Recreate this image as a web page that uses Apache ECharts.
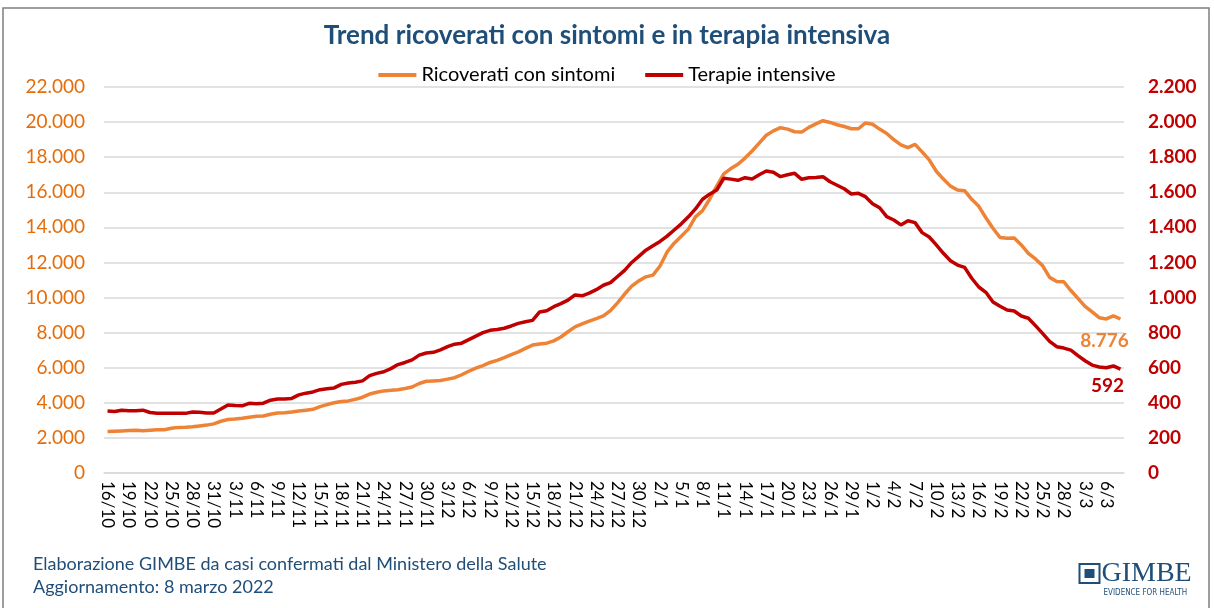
<!DOCTYPE html>
<html>
<head>
<meta charset="utf-8">
<script src="https://cdn.jsdelivr.net/npm/echarts@6/dist/echarts.min.js"></script>
<style>
  html, body { margin: 0; padding: 0; background: #fff; }
  #main { width: 1214px; height: 608px; }
</style>
</head>
<body>
<div id="main"></div>
<script>
// giorni dal 16/10/2021 all'8/3/2022
var start = new Date(2021, 9, 16);
var dates = [];
for (var d = 0; d < 144; d++) {
  var dt = new Date(start.getFullYear(), start.getMonth(), start.getDate() + d);
  dates.push(dt.getDate() + '/' + (dt.getMonth() + 1));
}

// ricoverati con sintomi (asse sx)
var ricoverati = [
  2360, 2380, 2400, 2420, 2430, 2410, 2440, 2460, 2470, 2550,
  2600, 2610, 2630, 2680, 2730, 2800, 2950, 3050, 3080, 3120,
  3180, 3230, 3250, 3350, 3420, 3440, 3480, 3530, 3580, 3630,
  3780, 3900, 4000, 4080, 4110, 4200, 4320, 4500, 4600, 4680,
  4710, 4750, 4820, 4900, 5100, 5230, 5250, 5270, 5350, 5430,
  5600, 5800, 5980, 6120, 6300, 6420, 6580, 6750, 6900, 7100,
  7290, 7350, 7400, 7530, 7750, 8050, 8330, 8500, 8660, 8800,
  8950, 9250, 9700, 10200, 10650, 10950, 11180, 11280, 11800, 12600,
  13100, 13500, 13900, 14600, 14950, 15600, 16350, 17050, 17350, 17600,
  17950, 18350, 18800, 19250, 19500, 19680, 19600, 19450, 19430, 19700,
  19900, 20080, 19980, 19850, 19750, 19620, 19620, 19950, 19880, 19600,
  19350, 19000, 18700, 18550, 18730, 18300, 17850, 17200, 16750, 16350,
  16130, 16090, 15600, 15200, 14550, 13950, 13420, 13380, 13400, 13000,
  12520, 12200, 11820, 11150, 10920, 10900, 10400, 9950, 9500, 9180,
  8850, 8780, 8960, 8776
];

// terapie intensive (asse dx)
var terapie = [
  353, 350, 358, 355, 355, 358, 345, 340, 340, 340,
  340, 340, 348, 346, 342, 342, 365, 388, 385, 383,
  397, 395, 398, 415, 422, 422, 425, 445, 455, 462,
  475, 480, 485, 505, 513, 517, 525, 555, 568, 577,
  595, 618, 630, 645, 672, 684, 688, 702, 720, 734,
  740, 760, 780, 800, 813, 818, 825, 838, 853, 862,
  870, 918, 925, 948, 965, 985, 1015, 1010, 1025, 1045,
  1070, 1085, 1120, 1155, 1200, 1235, 1270, 1295, 1320, 1350,
  1385, 1420, 1460, 1505, 1560, 1589, 1613, 1680, 1675, 1668,
  1683, 1676, 1700, 1721, 1714, 1689, 1700, 1708, 1674, 1683,
  1684, 1689, 1660, 1640, 1620, 1590, 1594, 1575, 1535, 1512,
  1461, 1442, 1414, 1438, 1427, 1370, 1345, 1300, 1252, 1210,
  1185, 1172, 1110, 1060, 1030, 975, 950, 929, 923, 895,
  882, 840, 796, 750, 720, 712, 700, 669, 640, 615,
  604, 600, 610, 592
];

var FONT = 'Lato';
var ORANGE = '#EE8336';
var RED = '#C00000';
var BLUE = '#1F4E79';

function migliaia(v) {
  return String(v).replace(/\B(?=(\d{3})+(?!\d))/g, '.');
}

var myChart = echarts.init(document.getElementById('main'));
myChart.setOption({
  animation: false,
  backgroundColor: '#fff',
  textStyle: { fontFamily: FONT },
  title: {
    text: 'Trend ricoverati con sintomi e in terapia intensiva',
    left: 'center',
    top: 18,
    textStyle: { color: BLUE, fontSize: 26, fontWeight: 'bold', fontFamily: FONT }
  },
  legend: {
    top: 60,
    left: 'center',
    itemWidth: 38,
    itemHeight: 4,
    itemGap: 30,
    icon: 'rect',
    textStyle: { color: '#000', fontSize: 20, fontFamily: FONT },
    data: ['Ricoverati con sintomi', 'Terapie intensive']
  },
  grid: { left: 104, right: 90, top: 87, bottom: 135 },
  xAxis: {
    type: 'category',
    data: dates,
    boundaryGap: true,
    axisLine: { lineStyle: { color: '#D9D9D9', width: 1.5 } },
    axisTick: { interval: 2, length: 6, lineStyle: { color: '#D9D9D9', width: 1.5 } },
    axisLabel: { interval: 2, rotate: -90, color: '#000', fontSize: 17, fontFamily: FONT, margin: 8 }
  },
  yAxis: [
    {
      type: 'value', min: 0, max: 22000, interval: 2000,
      axisLine: { show: false }, axisTick: { show: false },
      splitLine: { lineStyle: { color: '#D9D9D9', width: 1.5 } },
      axisLabel: { color: '#E46C0A', fontSize: 19, fontFamily: FONT, margin: 19, formatter: migliaia }
    },
    {
      type: 'value', min: 0, max: 2200, interval: 200,
      axisLine: { show: false }, axisTick: { show: false },
      splitLine: { show: false },
      axisLabel: { color: RED, fontSize: 19, fontWeight: 'bold', fontFamily: FONT, margin: 24, formatter: migliaia }
    }
  ],
  series: [
    {
      name: 'Ricoverati con sintomi',
      type: 'line',
      yAxisIndex: 0,
      showSymbol: false,
      color: ORANGE,
      lineStyle: { width: 3.5, color: ORANGE },
      endLabel: {
        show: true, distance: 0, align: 'center', verticalAlign: 'top', offset: [-16, 12],
        color: ORANGE, fontSize: 19, fontWeight: 'bold', fontFamily: FONT,
        formatter: function (p) { return migliaia(p.value); }
      },
      data: ricoverati
    },
    {
      name: 'Terapie intensive',
      type: 'line',
      yAxisIndex: 1,
      showSymbol: false,
      color: RED,
      lineStyle: { width: 3.5, color: RED },
      endLabel: {
        show: true, distance: 0, align: 'center', verticalAlign: 'top', offset: [-13, 7],
        color: RED, fontSize: 19, fontWeight: 'bold', fontFamily: FONT,
        formatter: function (p) { return migliaia(p.value); }
      },
      data: terapie
    }
  ],
  graphic: [
    {
      type: 'rect', silent: true,
      shape: { x: 3, y: 8, width: 1206, height: 640 },
      style: { fill: 'none', stroke: '#7F7F7F', lineWidth: 1.5 }
    },
    {
      type: 'text', left: 33, top: 555,
      style: { text: 'Elaborazione GIMBE da casi confermati dal Ministero della Salute', fill: BLUE, font: '18px ' + FONT }
    },
    {
      type: 'text', left: 33, top: 578,
      style: { text: 'Aggiornamento: 8 marzo 2022', fill: BLUE, font: '18px ' + FONT }
    },
    {
      type: 'group', left: 1077, top: 560,
      children: [
        { type: 'rect', shape: { x: 0, y: 4, width: 20, height: 19 }, style: { fill: 'none', stroke: BLUE, lineWidth: 2 } },
        { type: 'rect', shape: { x: 5, y: 9, width: 10, height: 9 }, style: { fill: BLUE } },
        { type: 'text', x: 22, y: 0, style: { text: 'GIMBE', fill: BLUE, font: '28px "Liberation Serif"' } },
        { type: 'text', x: 24, y: 29, style: { text: 'EVIDENCE FOR HEALTH', fill: BLUE, font: '8px "DejaVu Sans Condensed"' } }
      ]
    }
  ]
});
</script>
</body>
</html>
